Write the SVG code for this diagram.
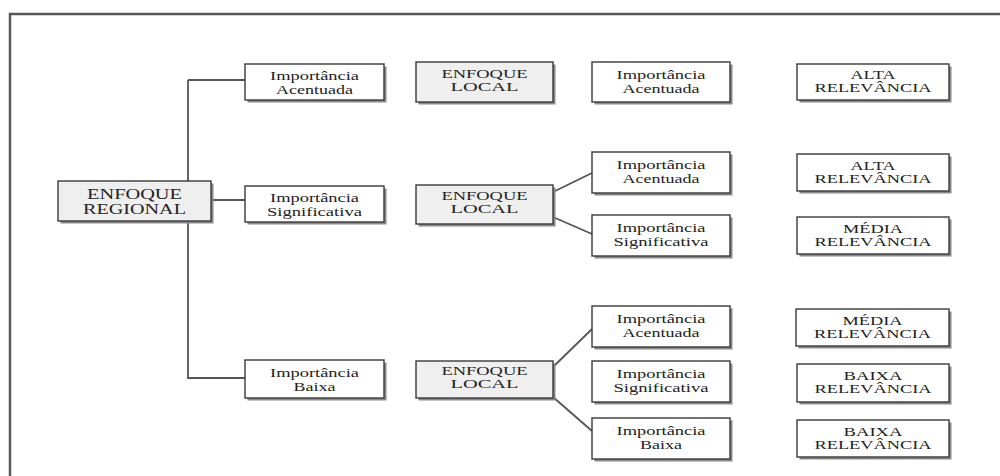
<svg xmlns="http://www.w3.org/2000/svg" width="1000" height="476" viewBox="0 0 1000 476">
<style>
.bg{fill:#ffffff}
.frame{fill:none;stroke:#5a5a5a;stroke-width:2.5}
.sh{fill:#8a8a8a}
.box{fill:#ffffff;stroke:#3a3a3a;stroke-width:1.4}
.gbox{fill:#efefef;stroke:#3a3a3a;stroke-width:1.4}
.conn{fill:none;stroke:#555;stroke-width:1.8}
text{font-family:"Liberation Serif","Times New Roman",serif;fill:#222;text-anchor:middle}
.t{font-size:13.5px}
.r{font-size:14.5px}
.l{font-size:12px}
.v{font-size:13px}
</style>
<rect class="bg" x="0" y="0" width="1000" height="476"/>
<path class="frame" d="M10,476 V14 H1000"/>
<g id="connectors">
<path class="conn" d="M188,80 H245 M188,80 V378 H245 M211,200 H245"/>
<path class="conn" d="M553,192 L592,173 M553,217 L592,234"/>
<path class="conn" d="M553,367 L592,329 M553,397 L592,431"/>
</g>
<g id="regional">
<rect class="sh" x="60.5" y="183.5" width="153" height="40"/>
<rect class="gbox" x="58" y="181" width="153" height="40"/>
<text class="r" x="134.5" y="198.5" textLength="95" lengthAdjust="spacingAndGlyphs">ENFOQUE</text>
<text class="r" x="134.5" y="213.5" textLength="103" lengthAdjust="spacingAndGlyphs">REGIONAL</text>
</g>
<g id="imp-acentuada-1">
<rect class="sh" x="247.5" y="66.5" width="139" height="36"/>
<rect class="box" x="245" y="64" width="139" height="36"/>
<text class="t" x="314.5" y="80" textLength="89" lengthAdjust="spacingAndGlyphs">Importância</text>
<text class="t" x="314.5" y="94" textLength="77" lengthAdjust="spacingAndGlyphs">Acentuada</text>
</g>
<g id="imp-significativa-1">
<rect class="sh" x="247.5" y="188.5" width="139" height="36"/>
<rect class="box" x="245" y="186" width="139" height="36"/>
<text class="t" x="314.5" y="202" textLength="89" lengthAdjust="spacingAndGlyphs">Importância</text>
<text class="t" x="314.5" y="216" textLength="95" lengthAdjust="spacingAndGlyphs">Significativa</text>
</g>
<g id="imp-baixa-1">
<rect class="sh" x="247.5" y="362.5" width="139" height="38"/>
<rect class="box" x="245" y="360" width="139" height="38"/>
<text class="t" x="314.5" y="377" textLength="89" lengthAdjust="spacingAndGlyphs">Importância</text>
<text class="t" x="314.5" y="391" textLength="42" lengthAdjust="spacingAndGlyphs">Baixa</text>
</g>
<g id="local-1">
<rect class="sh" x="418.5" y="64.5" width="137" height="40"/>
<rect class="gbox" x="416" y="62" width="137" height="40"/>
<text class="l" x="484.5" y="78" textLength="86" lengthAdjust="spacingAndGlyphs">ENFOQUE</text>
<text class="l" x="484.5" y="90.5" textLength="68" lengthAdjust="spacingAndGlyphs">LOCAL</text>
</g>
<g id="local-2">
<rect class="sh" x="418.5" y="187.5" width="137" height="39"/>
<rect class="gbox" x="416" y="185" width="137" height="39"/>
<text class="l" x="484.5" y="200" textLength="86" lengthAdjust="spacingAndGlyphs">ENFOQUE</text>
<text class="l" x="484.5" y="212.5" textLength="68" lengthAdjust="spacingAndGlyphs">LOCAL</text>
</g>
<g id="local-3">
<rect class="sh" x="418.5" y="363.5" width="137" height="37"/>
<rect class="gbox" x="416" y="361" width="137" height="37"/>
<text class="l" x="484.5" y="375" textLength="86" lengthAdjust="spacingAndGlyphs">ENFOQUE</text>
<text class="l" x="484.5" y="387.5" textLength="68" lengthAdjust="spacingAndGlyphs">LOCAL</text>
</g>
<g id="imp-acentuada-r1">
<rect class="sh" x="594.5" y="64.5" width="138" height="40"/>
<rect class="box" x="592" y="62" width="138" height="40"/>
<text class="t" x="661" y="79" textLength="89" lengthAdjust="spacingAndGlyphs">Importância</text>
<text class="t" x="661" y="93" textLength="77" lengthAdjust="spacingAndGlyphs">Acentuada</text>
</g>
<g id="imp-acentuada-r2">
<rect class="sh" x="594.5" y="154.5" width="138" height="41"/>
<rect class="box" x="592" y="152" width="138" height="41"/>
<text class="t" x="661" y="169" textLength="89" lengthAdjust="spacingAndGlyphs">Importância</text>
<text class="t" x="661" y="183" textLength="77" lengthAdjust="spacingAndGlyphs">Acentuada</text>
</g>
<g id="imp-significativa-r2">
<rect class="sh" x="594.5" y="217.5" width="138" height="41"/>
<rect class="box" x="592" y="215" width="138" height="41"/>
<text class="t" x="661" y="232" textLength="89" lengthAdjust="spacingAndGlyphs">Importância</text>
<text class="t" x="661" y="246" textLength="95" lengthAdjust="spacingAndGlyphs">Significativa</text>
</g>
<g id="imp-acentuada-r3">
<rect class="sh" x="594.5" y="308.5" width="138" height="41"/>
<rect class="box" x="592" y="306" width="138" height="41"/>
<text class="t" x="661" y="323" textLength="89" lengthAdjust="spacingAndGlyphs">Importância</text>
<text class="t" x="661" y="337" textLength="77" lengthAdjust="spacingAndGlyphs">Acentuada</text>
</g>
<g id="imp-significativa-r3">
<rect class="sh" x="594.5" y="363.5" width="138" height="41"/>
<rect class="box" x="592" y="361" width="138" height="41"/>
<text class="t" x="661" y="378" textLength="89" lengthAdjust="spacingAndGlyphs">Importância</text>
<text class="t" x="661" y="392" textLength="95" lengthAdjust="spacingAndGlyphs">Significativa</text>
</g>
<g id="imp-baixa-r3">
<rect class="sh" x="594.5" y="420.5" width="138" height="41"/>
<rect class="box" x="592" y="418" width="138" height="41"/>
<text class="t" x="661" y="435" textLength="89" lengthAdjust="spacingAndGlyphs">Importância</text>
<text class="t" x="661" y="449" textLength="42" lengthAdjust="spacingAndGlyphs">Baixa</text>
</g>
<g id="alta-1">
<rect class="sh" x="799.5" y="66.5" width="152" height="36"/>
<rect class="box" x="797" y="64" width="152" height="36"/>
<text class="v" x="873" y="79" textLength="45" lengthAdjust="spacingAndGlyphs">ALTA</text>
<text class="v" x="873" y="92" textLength="117" lengthAdjust="spacingAndGlyphs">RELEVÂNCIA</text>
</g>
<g id="alta-2">
<rect class="sh" x="799.5" y="156.5" width="152" height="37"/>
<rect class="box" x="797" y="154" width="152" height="37"/>
<text class="v" x="873" y="170" textLength="45" lengthAdjust="spacingAndGlyphs">ALTA</text>
<text class="v" x="873" y="183" textLength="117" lengthAdjust="spacingAndGlyphs">RELEVÂNCIA</text>
</g>
<g id="media-1">
<rect class="sh" x="799.5" y="219.5" width="152" height="37"/>
<rect class="box" x="797" y="217" width="152" height="37"/>
<text class="v" x="873" y="233" textLength="60" lengthAdjust="spacingAndGlyphs">MÉDIA</text>
<text class="v" x="873" y="246" textLength="117" lengthAdjust="spacingAndGlyphs">RELEVÂNCIA</text>
</g>
<g id="media-2">
<rect class="sh" x="798.5" y="311.5" width="153" height="37"/>
<rect class="box" x="796" y="309" width="153" height="37"/>
<text class="v" x="872.5" y="325" textLength="60" lengthAdjust="spacingAndGlyphs">MÉDIA</text>
<text class="v" x="872.5" y="338" textLength="117" lengthAdjust="spacingAndGlyphs">RELEVÂNCIA</text>
</g>
<g id="baixa-1">
<rect class="sh" x="799.5" y="366.5" width="152" height="38"/>
<rect class="box" x="797" y="364" width="152" height="38"/>
<text class="v" x="873" y="380" textLength="59" lengthAdjust="spacingAndGlyphs">BAIXA</text>
<text class="v" x="873" y="393" textLength="117" lengthAdjust="spacingAndGlyphs">RELEVÂNCIA</text>
</g>
<g id="baixa-2">
<rect class="sh" x="799.5" y="422.5" width="152" height="37"/>
<rect class="box" x="797" y="420" width="152" height="37"/>
<text class="v" x="873" y="436" textLength="59" lengthAdjust="spacingAndGlyphs">BAIXA</text>
<text class="v" x="873" y="449" textLength="117" lengthAdjust="spacingAndGlyphs">RELEVÂNCIA</text>
</g>
</svg>
